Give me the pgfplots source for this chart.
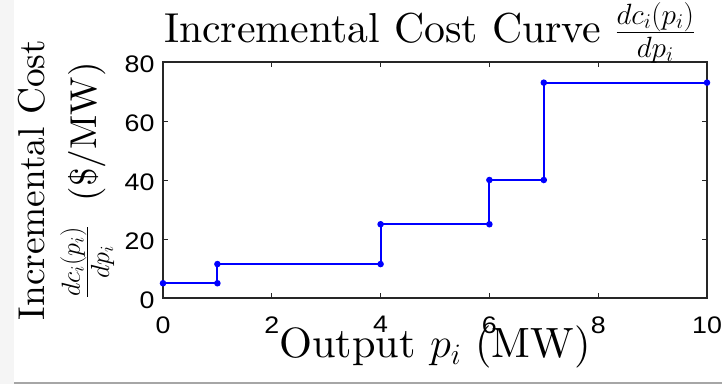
\RequirePackage{fix-cm}
\documentclass[border=0pt]{standalone}
\usepackage{fontspec}
\setmainfont{lmroman10-regular}[Extension=.otf, ItalicFont=lmroman10-italic, BoldFont=lmroman10-bold]
\usepackage{pgfplots}
\pgfplotsset{compat=1.18}
\newfontfamily\tickfont{Liberation Sans}[FakeStretch=1.12]
\definecolor{axgray}{gray}{0.15}
\begin{document}
\begin{tikzpicture}
\path[use as bounding box] (0,0) rectangle (722bp,384bp);
\fill[white] (0,0) rectangle (722bp,384bp);
\fill[gray!8] (0,0) rectangle (14bp,384bp);
\fill[gray!70] (14bp,0) rectangle (722bp,2bp);
\begin{axis}[
  at={(163bp,86bp)}, anchor=south west,
  scale only axis, width=544bp, height=236bp,
  xmin=0, xmax=10, ymin=0, ymax=80,
  xtick={0,2,...,10}, ytick={0,20,...,80},
  tick align=inside, major tick length=5bp,
  axis line style={axgray, line width=1.2bp},
  every tick/.style={axgray, line width=0.8bp},
  /pgf/number format/assume math mode=true,
  ticklabel style={font=\tickfont\fontsize{24}{24}\selectfont, text=black},
  xticklabel style={yshift=-15bp},
  yticklabel style={xshift=-5bp, yshift=-2bp},
  title={Incremental Cost Curve $\frac{dc_i(p_i)}{dp_i}$},
  title style={font=\fontsize{42}{48}\selectfont, at={(axis description cs:0.49,1.057)}, anchor=base},
  xlabel={Output $p_i$ (MW)},
  xlabel style={font=\fontsize{42.5}{48}\selectfont, at={(axis description cs:0.5,-0.254)}, anchor=base},
  ylabel={Incremental Cost\\$\frac{dc_i(p_i)}{dp_i}$\ \ (\$/MW)},
  ylabel style={font=\fontsize{37.5}{52}\selectfont, align=center, at={(axis description cs:-0.178,0.5)}, anchor=center},
]
\addplot[blue, line width=2bp, mark=*, mark size=2.2bp, mark options={fill=blue, draw=blue}] coordinates {
(0,5) (1,5) (1,11.5) (4,11.5) (4,25) (6,25) (6,40) (7,40) (7,73) (10,73)
};
\end{axis}
\end{tikzpicture}
\end{document}
